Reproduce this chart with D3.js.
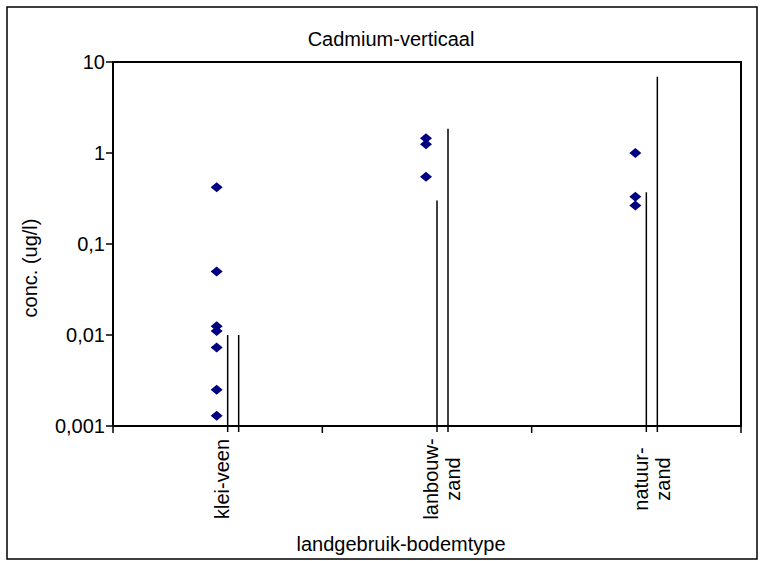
<!DOCTYPE html>
<html>
<head>
<meta charset="utf-8">
<script src="https://cdn.jsdelivr.net/npm/d3@7/dist/d3.min.js"></script>
<style>
  html, body { margin: 0; padding: 0; background: #fff; }
  svg { display: block; }
  text { font-family: "Liberation Sans", Arial, sans-serif; fill: #000; }
</style>
</head>
<body>
<svg id="chart" width="763" height="561"></svg>
<script>
// ---- data ----
const categories = ["klei-veen", "lanbouw-zand", "natuur-zand"];
const categoryLabels = [["klei-veen"], ["lanbouw-", "zand"], ["natuur-", "zand"]];
const kleiVeenValues = [0.42, 0.05, 0.0125, 0.0111, 0.0073, 0.0025, 0.0013];
const lanbouwZandValues = [1.45, 1.25, 0.55];
const natuurZandValues = [1.0, 0.33, 0.265];
const lineAHigh = [0.01, 0.30, 0.37];
const lineBHigh = [0.01, 1.85, 6.9];
const yTickValues = [0.001, 0.01, 0.1, 1, 10];
const yTickLabels = ["0,001", "0,01", "0,1", "1", "10"];
const titleText = "Cadmium-verticaal";
const xTitle = "landgebruik-bodemtype";
const yTitle = "conc. (ug/l)";

const pointSeries = [kleiVeenValues, lanbouwZandValues, natuurZandValues];

// ---- layout ----
const svg = d3.select("#chart");
const plot = { left: 113, right: 741, top: 62, bottom: 426 };
const fontSize = 20;

const x = d3.scaleBand().domain(categories).range([plot.left, plot.right]);
const y = d3.scaleLog().domain([0.001, 10]).range([plot.bottom, plot.top]);
const sub = d3.scalePoint().domain(["A", "B"]).range([10, 21]);

// outer border
svg.append("rect")
  .attr("x", 7).attr("y", 7).attr("width", 750).attr("height", 552)
  .attr("fill", "#fff").attr("stroke", "#000").attr("stroke-width", 1.5);

// title
svg.append("text")
  .attr("x", 391).attr("y", 46)
  .attr("text-anchor", "middle")
  .style("font-size", fontSize + "px")
  .text(titleText);

// plot frame
svg.append("rect")
  .attr("x", plot.left).attr("y", plot.top)
  .attr("width", plot.right - plot.left).attr("height", plot.bottom - plot.top)
  .attr("fill", "none").attr("stroke", "#000").attr("stroke-width", 2);

// y axis ticks & labels
const yAxis = svg.append("g");
yTickValues.forEach((v, i) => {
  yAxis.append("line")
    .attr("x1", plot.left - 7).attr("x2", plot.left)
    .attr("y1", y(v)).attr("y2", y(v))
    .attr("stroke", "#000").attr("stroke-width", 1.5);
  yAxis.append("text")
    .attr("x", plot.left - 8).attr("y", y(v))
    .attr("dy", "0.36em")
    .attr("text-anchor", "end")
    .style("font-size", fontSize + "px")
    .text(yTickLabels[i]);
});

// x axis ticks at band boundaries
const xBounds = categories.map(c => x(c)).concat([x(categories[categories.length - 1]) + x.bandwidth()]);
xBounds.forEach(b => {
  svg.append("line")
    .attr("x1", b).attr("x2", b)
    .attr("y1", plot.bottom).attr("y2", plot.bottom + 7)
    .attr("stroke", "#000").attr("stroke-width", 1.5);
});

// x category labels (rotated)
categories.forEach((c, i) => {
  const cx = x(c) + x.bandwidth() / 2;
  categoryLabels[i].forEach((line, j) => {
    svg.append("text")
      .attr("transform", `translate(${cx + 4 + j * 22},${479}) rotate(-90)`)
      .attr("text-anchor", "middle")
      .attr("dy", "0.36em")
      .style("font-size", fontSize + "px")
      .text(line);
  });
});

// vertical lines
categories.forEach((c, i) => {
  const cx = x(c) + x.bandwidth() / 2;
  [["A", lineAHigh[i]], ["B", lineBHigh[i]]].forEach(([k, v]) => {
    svg.append("line")
      .attr("x1", cx + sub(k)).attr("x2", cx + sub(k))
      .attr("y1", y(v)).attr("y2", y(0.001) + 6)
      .attr("stroke", "#000").attr("stroke-width", 1.5);
  });
});

// diamonds
const diamond = "M0,-5L6,0L0,5L-6,0Z";
categories.forEach((c, i) => {
  const cx = x(c) + x.bandwidth() / 2;
  svg.append("g").selectAll("path")
    .data(pointSeries[i])
    .join("path")
    .attr("d", diamond)
    .attr("transform", d => `translate(${cx - 1},${y(d)})`)
    .attr("fill", "#000080");
});

// axis titles
svg.append("text")
  .attr("x", 401).attr("y", 551)
  .attr("text-anchor", "middle")
  .style("font-size", fontSize + "px")
  .text(xTitle);

svg.append("text")
  .attr("transform", "translate(37,268) rotate(-90)")
  .attr("text-anchor", "middle")
  .style("font-size", fontSize + "px")
  .text(yTitle);
</script>
</body>
</html>
